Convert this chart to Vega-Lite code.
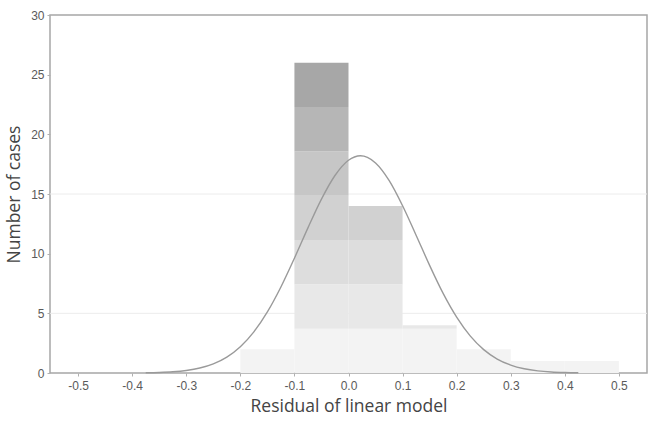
{
  "$schema": "https://vega.github.io/schema/vega-lite/v6.json",
  "width": 597,
  "height": 358,
  "autosize": "none",
  "padding": {"left": 50, "top": 15, "right": 10, "bottom": 50},
  "background": "white",
  "config": {
    "view": {"stroke": "#a6a6a6", "strokeWidth": 1.5},
    "axis": {
      "grid": false,
      "domain": false,
      "tickColor": "#b0b0b0",
      "tickSize": 3,
      "labelFont": "Liberation Sans",
      "labelFontSize": 12,
      "labelColor": "#5a5a5a",
      "titleFont": "Open Sans",
      "titleFontSize": 17.5,
      "titleFontWeight": "normal",
      "titleColor": "#444444"
    }
  },
  "datasets": {
    "grid": [{"g": 5}, {"g": 15}],
    "bins": [
      {"x0": -0.2, "x1": -0.1, "y0": 0, "y1": 2, "band": 0},
      {"x0": -0.1, "x1": 0.0, "y0": 0, "y1": 3.71, "band": 0},
      {"x0": -0.1, "x1": 0.0, "y0": 3.71, "y1": 7.43, "band": 1},
      {"x0": -0.1, "x1": 0.0, "y0": 7.43, "y1": 11.14, "band": 2},
      {"x0": -0.1, "x1": 0.0, "y0": 11.14, "y1": 14.86, "band": 3},
      {"x0": -0.1, "x1": 0.0, "y0": 14.86, "y1": 18.57, "band": 4},
      {"x0": -0.1, "x1": 0.0, "y0": 18.57, "y1": 22.29, "band": 5},
      {"x0": -0.1, "x1": 0.0, "y0": 22.29, "y1": 26, "band": 6},
      {"x0": 0.0, "x1": 0.1, "y0": 0, "y1": 3.71, "band": 0},
      {"x0": 0.0, "x1": 0.1, "y0": 3.71, "y1": 7.43, "band": 1},
      {"x0": 0.0, "x1": 0.1, "y0": 7.43, "y1": 11.14, "band": 2},
      {"x0": 0.0, "x1": 0.1, "y0": 11.14, "y1": 14, "band": 3},
      {"x0": 0.1, "x1": 0.2, "y0": 0, "y1": 3.71, "band": 0},
      {"x0": 0.1, "x1": 0.2, "y0": 3.71, "y1": 4, "band": 1},
      {"x0": 0.2, "x1": 0.3, "y0": 0, "y1": 2, "band": 0},
      {"x0": 0.3, "x1": 0.4, "y0": 0, "y1": 1, "band": 0},
      {"x0": 0.4, "x1": 0.5, "y0": 0, "y1": 1, "band": 0}
    ],
    "curve": [
      {"x": -0.375, "f": 0.021}, {"x": -0.35, "f": 0.048}, {"x": -0.325, "f": 0.104},
      {"x": -0.3, "f": 0.214}, {"x": -0.275, "f": 0.415}, {"x": -0.25, "f": 0.764},
      {"x": -0.225, "f": 1.332}, {"x": -0.2, "f": 2.2}, {"x": -0.175, "f": 3.447},
      {"x": -0.15, "f": 5.12}, {"x": -0.125, "f": 7.21}, {"x": -0.1, "f": 9.62},
      {"x": -0.075, "f": 12.16}, {"x": -0.05, "f": 14.57}, {"x": -0.025, "f": 16.55},
      {"x": 0.0, "f": 17.83}, {"x": 0.011, "f": 18.1}, {"x": 0.022, "f": 18.2}, {"x": 0.035, "f": 18.07},
      {"x": 0.05, "f": 17.6}, {"x": 0.075, "f": 16.14}, {"x": 0.1, "f": 14.02},
      {"x": 0.125, "f": 11.55}, {"x": 0.15, "f": 9.02}, {"x": 0.175, "f": 6.67},
      {"x": 0.2, "f": 4.68}, {"x": 0.225, "f": 3.11}, {"x": 0.25, "f": 1.96},
      {"x": 0.275, "f": 1.17}, {"x": 0.3, "f": 0.663}, {"x": 0.325, "f": 0.355},
      {"x": 0.35, "f": 0.181}, {"x": 0.375, "f": 0.087}, {"x": 0.4, "f": 0.04},
      {"x": 0.425, "f": 0.017}
    ]
  },
  "layer": [
    {
      "data": {"name": "grid"},
      "mark": {"type": "rule", "color": "#ececec", "strokeWidth": 1},
      "encoding": {
        "y": {"field": "g", "type": "quantitative", "scale": {"domain": [0, 30], "nice": false}}
      }
    },
    {
      "data": {"name": "bins"},
      "mark": {"type": "rect"},
      "encoding": {
        "x": {
          "field": "x0", "type": "quantitative",
          "scale": {"domain": [-0.552, 0.552], "nice": false, "zero": false},
          "axis": {
            "title": "Residual of linear model",
            "values": [-0.5, -0.4, -0.3, -0.2, -0.1, 0, 0.1, 0.2, 0.3, 0.4, 0.5],
            "labelExpr": "datum.value < 0 ? '-' + format(-datum.value, '.1f') : format(datum.value, '.1f')",
            "labelPadding": 4,
            "titlePadding": 6
          }
        },
        "x2": {"field": "x1"},
        "y": {
          "field": "y1", "type": "quantitative",
          "scale": {"domain": [0, 30], "nice": false},
          "axis": {
            "title": "Number of cases",
            "values": [0, 5, 10, 15, 20, 25, 30],
            "labelPadding": 3,
            "titlePadding": 7
          }
        },
        "y2": {"field": "y0"},
        "color": {
          "field": "band", "type": "ordinal", "legend": null,
          "scale": {
            "domain": [0, 1, 2, 3, 4, 5, 6],
            "range": ["#f3f3f3", "#e8e8e8", "#dddddd", "#d1d1d1", "#c6c6c6", "#b6b6b6", "#a7a7a7"]
          }
        }
      }
    },
    {
      "data": {"name": "curve"},
      "mark": {"type": "line", "color": "#9a9a9a", "strokeWidth": 1.4, "interpolate": "monotone"},
      "encoding": {
        "x": {"field": "x", "type": "quantitative"},
        "y": {"field": "f", "type": "quantitative"}
      }
    }
  ]
}
